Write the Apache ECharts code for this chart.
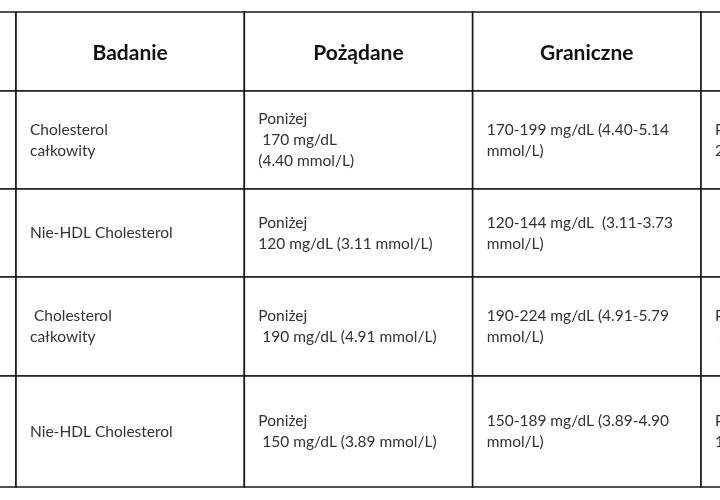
<!DOCTYPE html>
<html><head><meta charset="utf-8">
<script src="https://cdn.jsdelivr.net/npm/echarts@6/dist/echarts.min.js"></script>
<style>html,body{margin:0;background:#fff}#c{width:720px;height:500px}</style>
</head><body><div id="c"></div>
<script>
const headers = ['', 'Badanie', 'Pożądane', 'Graniczne', ''];
const rowEdges = [0, 79, 177, 265, 364, 475];
const colEdges = [-0.2, 0, 1, 2, 3, 3.3];
const rows = [
  ['', 'Cholesterol\ncałkowity', 'Poniżej\n 170 mg/dL\n(4.40 mmol/L)', '170-199 mg/dL (4.40-5.14\nmmol/L)', 'Powyżej\n200 mg/dL'],
  ['', 'Nie-HDL Cholesterol', 'Poniżej\n120 mg/dL (3.11 mmol/L)', '120-144 mg/dL  (3.11-3.73\nmmol/L)', ''],
  ['', ' Cholesterol\ncałkowity', 'Poniżej\n 190 mg/dL (4.91 mmol/L)', '190-224 mg/dL (4.91-5.79\nmmol/L)', 'Powyżej\n 225 mg/dL'],
  ['', 'Nie-HDL Cholesterol', 'Poniżej\n 150 mg/dL (3.89 mmol/L)', '150-189 mg/dL (3.89-4.90\nmmol/L)', 'Powyżej\n190 mg/dL']
];
const cells = [];
headers.forEach((h, c) => cells.push([c, 0, h, 1]));
rows.forEach((r, ri) => r.forEach((t, c) => cells.push([c, ri + 1, t, 0])));
const chart = echarts.init(document.getElementById('c'));
chart.setOption({
  animation: false,
  grid: {left: 16, top: 12, width: 685, height: 475},
  xAxis: {type: 'value', min: 0, max: 3, show: false},
  yAxis: {type: 'value', min: 0, max: 475, inverse: true, show: false},
  series: [{
    type: 'custom', clip: false,
    data: cells,
    renderItem: (params, api) => {
      const c = api.value(0), r = api.value(1), hdr = api.value(3);
      const t = cells[params.dataIndex][2];
      const p0 = api.coord([colEdges[c], rowEdges[r]]);
      const p1 = api.coord([colEdges[c + 1], rowEdges[r + 1]]);
      const w = p1[0] - p0[0], h = p1[1] - p0[1];
      return {
        type: 'group', children: [
          {type: 'rect', shape: {x: p0[0], y: p0[1], width: w, height: h},
            style: {fill: '#fff', stroke: '#1a1a1a', lineWidth: 1.6}},
          {type: 'text', style: hdr ? {
              x: p0[0] + w / 2, y: p0[1] + h / 2 + 2, text: t, align: 'center', verticalAlign: 'middle',
              font: 'bold 21px Lato, "Open Sans", sans-serif', fill: '#111'}
            : {x: p0[0] + 14, y: p0[1] + h / 2, text: t, align: 'left', verticalAlign: 'middle',
              font: '15.5px Lato, "Open Sans", sans-serif', lineHeight: 21, fill: '#333'}}
        ]
      };
    }
  }]
});
</script></body></html>
